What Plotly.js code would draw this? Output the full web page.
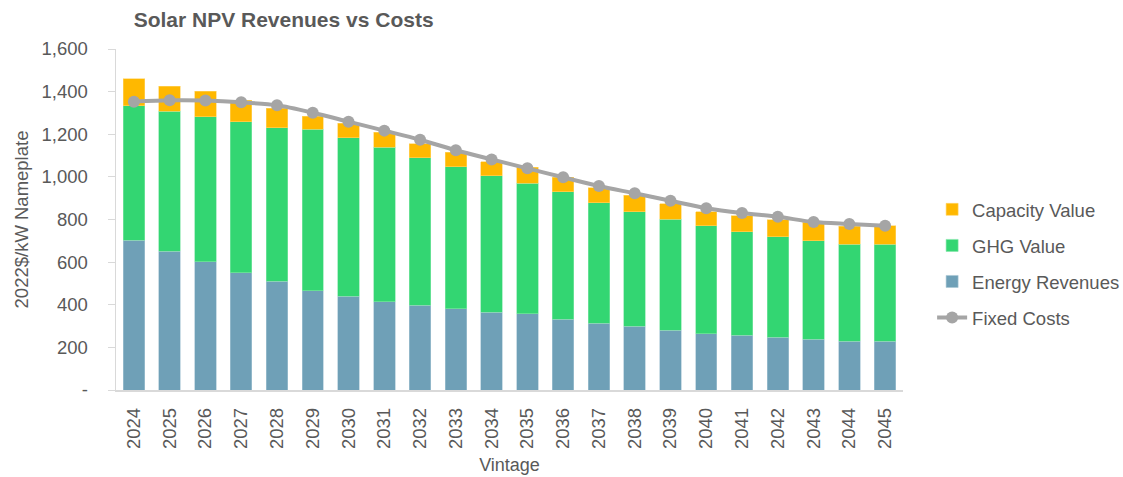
<!DOCTYPE html>
<html>
<head>
<meta charset="utf-8">
<script src="https://cdn.plot.ly/plotly-3.0.1.min.js"></script>
<style>html,body{margin:0;padding:0;background:#fff;}#chart{width:1123px;height:477px;}</style>
</head>
<body>
<div id="chart"></div>
<script>
const vintages = ['2024','2025','2026','2027','2028','2029','2030','2031','2032','2033','2034','2035','2036','2037','2038','2039','2040','2041','2042','2043','2044','2045'];
const energyRevenues = [702,652,601,551,510,466,440,414,397,382,364,357,332,313,299,280,264,257,247,238,228,228];
const ghgValue = [631,657,682,708,721,758,744,726,693,666,642,614,598,566,538,522,506,486,471,463,457,457];
const capacityValue = [128,117,118,101,91,60,67,69,66,67,65,74,68,69,76,71,67,74,80,86,83,86];
const fixedCosts = [1353,1359,1358,1350,1336,1301,1259,1217,1174,1125,1082,1040,998,957,923,888,853,830,813,788,779,771];
const yTickVals = [0,200,400,600,800,1000,1200,1400,1600];
const yTickText = ['-','200','400','600','800','1,000','1,200','1,400','1,600'];

const textColor = '#595959';
const fontFam = 'Liberation Sans, Arial, sans-serif';

const traces = [
  {type:'bar', name:'Energy Revenues', x:vintages, y:energyRevenues, marker:{color:'#6FA0B7', line:{color:'#A9C7D5', width:0.6}}, legendgroup:'c', legendrank:3},
  {type:'bar', name:'GHG Value', x:vintages, y:ghgValue, marker:{color:'#33D672', line:{color:'#85E6AA', width:0.6}}, legendgroup:'b', legendrank:2},
  {type:'bar', name:'Capacity Value', x:vintages, y:capacityValue, marker:{color:'#FFB800', line:{color:'#FFD466', width:0.6}}, legendgroup:'a', legendrank:1},
  {type:'scatter', mode:'lines+markers', name:'Fixed Costs', x:vintages, y:fixedCosts, line:{color:'#A5A5A5', width:4, shape:'spline', smoothing:0.8}, marker:{color:'#A5A5A5', size:12}, legendgroup:'d', legendrank:4}
];

const layout = {
  width:1123, height:477,
  margin:{l:116, r:220, t:49, b:87, autoexpand:false},
  paper_bgcolor:'#fff', plot_bgcolor:'#fff',
  barmode:'stack', bargap:0.4,
  font:{family:fontFam, color:textColor, size:16},
  title:{text:'<b>Solar NPV Revenues vs Costs</b>', font:{family:fontFam, size:21, color:textColor}, xref:'container', yref:'container', x:0.119, xanchor:'left', y:0.958, yanchor:'middle'},
  xaxis:{
    type:'category', tickangle:-90, showgrid:false, showline:true, linecolor:'#D9D9D9', linewidth:1.5,
    ticks:'', tickfont:{size:18.5, color:textColor}, range:[-0.5,21.5], ticklabelstandoff:9,
    title:{text:'Vintage', font:{size:18, color:textColor}, standoff:10}
  },
  yaxis:{
    range:[0,1600], tickvals:yTickVals, ticktext:yTickText, showgrid:false, zeroline:false,
    showline:true, linecolor:'#D9D9D9', linewidth:1.5, ticks:'outside', ticklen:7, tickcolor:'#D9D9D9',
    tickfont:{size:18.5, color:textColor}, ticklabelstandoff:16,
    title:{text:'2022$/kW Nameplate', font:{size:18.5, color:textColor}, standoff:8}
  },
  legend:{x:1.037, xanchor:'left', y:0.37, yanchor:'middle', traceorder:'grouped', tracegroupgap:9, font:{size:18.5, color:textColor}, bgcolor:'rgba(0,0,0,0)'},
  showlegend:true
};

Plotly.newPlot('chart', traces, layout, {displayModeBar:false, staticPlot:true});
</script>
</body>
</html>
